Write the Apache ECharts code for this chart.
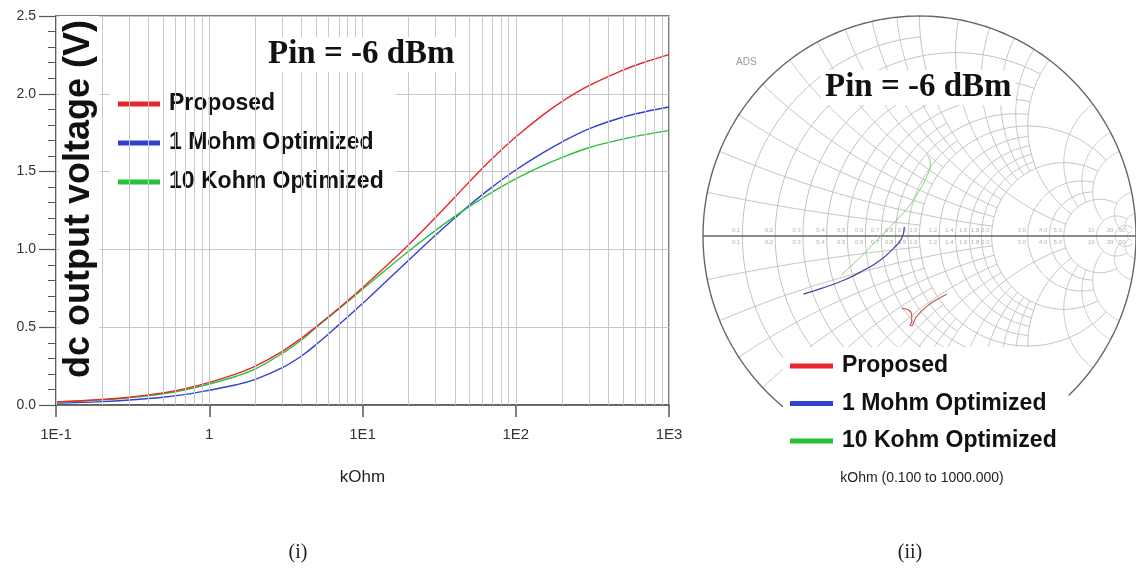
<!DOCTYPE html>
<html>
<head>
<meta charset="utf-8">
<script src="https://cdn.jsdelivr.net/npm/echarts@6/dist/echarts.min.js"></script>
<style>
  html, body { margin: 0; padding: 0; background: #fff; }
  #chart { width: 1136px; height: 570px; }
</style>
</head>
<body>
<div id="chart"></div>
<script>
// left panel: dc output voltage vs load (kOhm), log x axis
const loadKohm = [0.1, 0.2, 0.3, 0.5, 0.7, 1, 1.5, 2, 3, 4, 5, 7, 10, 15, 20, 30, 40, 50, 70, 100, 150, 200, 300, 500, 700, 1000];
const proposedV = [0.020, 0.035, 0.050, 0.078, 0.105, 0.145, 0.200, 0.250, 0.345, 0.430, 0.505, 0.622, 0.754, 0.912, 1.030, 1.206, 1.335, 1.437, 1.583, 1.722, 1.863, 1.950, 2.052, 2.152, 2.205, 2.252];
const mohmV     = [0.012, 0.022, 0.032, 0.050, 0.068, 0.095, 0.130, 0.165, 0.240, 0.315, 0.390, 0.515, 0.652, 0.815, 0.930, 1.092, 1.202, 1.285, 1.400, 1.510, 1.620, 1.690, 1.775, 1.850, 1.885, 1.915];
const kohmV     = [0.018, 0.033, 0.047, 0.072, 0.098, 0.135, 0.185, 0.232, 0.332, 0.418, 0.500, 0.617, 0.744, 0.888, 0.988, 1.122, 1.212, 1.277, 1.367, 1.454, 1.538, 1.590, 1.653, 1.709, 1.738, 1.763];
const seriesNames = ['Proposed', '1 Mohm Optimized', '10 Kohm Optimized'];

// right panel: traces on the Smith chart (reflection coefficient, re / im)
const proposedGamma = [[-0.082, -0.329], [-0.051, -0.336], [-0.036, -0.359], [-0.036, -0.390], [-0.044, -0.405], [-0.036, -0.408], [-0.026, -0.390], [-0.014, -0.367], [0.032, -0.321], [0.077, -0.291], [0.126, -0.265]];
const mohmGamma = [[-0.536, -0.264], [-0.453, -0.238], [-0.347, -0.200], [-0.256, -0.155], [-0.180, -0.109], [-0.120, -0.056], [-0.082, -0.010], [-0.070, 0.042]];
const kohmGamma = [[-0.362, -0.177], [-0.271, -0.094], [-0.180, -0.003], [-0.105, 0.073], [-0.044, 0.141], [0.001, 0.209], [0.040, 0.285], [0.050, 0.330], [0.035, 0.368]];

// smith chart grid: [value, limit]
const resistCircles = [[0.1, 1], [0.2, 2], [0.3, 1], [0.4, 2], [0.5, 1], [0.6, 2], [0.7, 1], [0.8, 2], [0.9, 1], [1, 5],
  [1.2, 2], [1.4, 2], [1.6, 2], [1.8, 2], [2, 5], [3, 5], [4, 5], [5, 10], [10, 20], [20, 50], [50, 50]];
const reactArcs = [[0.1, 1], [0.2, 2], [0.3, 1], [0.4, 2], [0.5, 1], [0.6, 2], [0.7, 1], [0.8, 2], [0.9, 1], [1, 5],
  [1.2, 2], [1.4, 2], [1.6, 2], [1.8, 2], [2, 5], [3, 5], [4, 5], [5, 10], [10, 20], [20, 50]];

const decades = [0.1, 1, 10, 100];
const vGrid = [];
decades.forEach(d => { for (let k = 1; k <= 9; k++) vGrid.push(+(d * k).toPrecision(3)); });
vGrid.push(1000);

function zToGamma(r, x) {
  const d = (r + 1) * (r + 1) + x * x;
  return [(r * r + x * x - 1) / d, 2 * x / d];
}

const gridStroke = '#c2c2c2';

function renderSmith(params, api) {
  const kind = api.value(0), a = api.value(1), b = api.value(2);
  let pts = [];
  const n = 120;
  if (kind === 0) {
    const cx = a / (1 + a), R = 1 / (1 + a);
    const p = zToGamma(a, b);
    const phi = Math.atan2(p[1], p[0] - cx);
    for (let i = 0; i <= n; i++) {
      const t = phi + (2 * Math.PI - 2 * phi) * i / n;
      pts.push([cx + R * Math.cos(t), R * Math.sin(t)]);
    }
    const lp = api.coord([(a - 1) / (a + 1), 0]);
    const lbl = String(a < 10 ? a.toFixed(1) : a);
    return {
      type: 'group',
      children: [
        { type: 'polyline', shape: { points: pts.map(q => api.coord(q)) }, style: { stroke: gridStroke, lineWidth: 1, fill: null } },
        { type: 'text', x: lp[0] - 2, y: lp[1] - 3, style: { text: lbl, font: '6px "Liberation Sans"', fill: '#b0b0b0', align: 'right', verticalAlign: 'bottom' } },
        { type: 'text', x: lp[0] - 2, y: lp[1] + 3, style: { text: lbl, font: '6px "Liberation Sans"', fill: '#b0b0b0', align: 'right', verticalAlign: 'top' } }
      ]
    };
  } else if (kind === 1) {
    const R = 1 / a;
    const p0 = zToGamma(0, a), p1 = zToGamma(b, a);
    const a0 = Math.atan2(p0[1] - R, p0[0] - 1);
    let da = Math.atan2(p1[1] - R, p1[0] - 1) - a0;
    while (da > Math.PI) da -= 2 * Math.PI;
    while (da < -Math.PI) da += 2 * Math.PI;
    const up = [];
    for (let i = 0; i <= n; i++) {
      const t = a0 + da * i / n;
      up.push([1 + R * Math.cos(t), R + R * Math.sin(t)]);
    }
    const down = up.map(q => [q[0], -q[1]]);
    return {
      type: 'group',
      children: [up, down].map(arr => ({
        type: 'polyline',
        shape: { points: arr.map(q => api.coord(q)) },
        style: { stroke: gridStroke, lineWidth: 1, fill: null }
      }))
    };
  } else if (kind === 2) {
    for (let i = 0; i <= 240; i++) {
      const t = 2 * Math.PI * i / 240;
      pts.push([Math.cos(t), Math.sin(t)]);
    }
  } else {
    pts = [[-1, 0], [1, 0]];
  }
  return {
    type: 'polyline',
    z2: 5,
    shape: { points: pts.map(q => api.coord(q)) },
    style: { stroke: '#666', lineWidth: 1.4, fill: null }
  };
}

const smithGridData = []
  .concat(resistCircles.map(c => [0, c[0], c[1]]))
  .concat(reactArcs.map(c => [1, c[0], c[1]]))
  .concat([[2, 0, 0], [3, 0, 0]]);

const chart = echarts.init(document.getElementById('chart'));

const legendText = { fontFamily: 'Liberation Sans', fontWeight: 'bold', fontSize: 23, lineHeight: 26, color: '#111', padding: [0, 0, 0, 4] };
const titleText = { fontFamily: 'Liberation Serif', fontWeight: 'bold', fontSize: 33, color: '#111' };

const option = {
  animation: false,
  title: [
    { text: 'Pin = -6 dBm', left: 264, top: 37, padding: [1, 4], backgroundColor: '#fff', textStyle: titleText },
    { text: 'Pin = -6 dBm', left: 821, top: 70, padding: [1, 4], backgroundColor: '#fff', textStyle: titleText }
  ],
  legend: [
    {
      data: seriesNames, orient: 'vertical', left: 110, top: 85, padding: [6, 12, 8, 8],
      backgroundColor: '#fff', itemWidth: 42, itemHeight: 5, itemGap: 13, icon: 'rect',
      textStyle: legendText, selectedMode: false
    },
    {
      data: seriesNames, orient: 'vertical', left: 783, top: 347, padding: [6, 12, 10, 7],
      backgroundColor: '#fff', itemWidth: 43, itemHeight: 5, itemGap: 11.5, icon: 'rect',
      textStyle: legendText, selectedMode: false
    }
  ],
  grid: [
    { left: 56, top: 16, width: 613, height: 389, show: true, borderColor: '#555', borderWidth: 1.5 },
    { left: 703, top: 16, width: 440, height: 440 }
  ],
  xAxis: [
    {
      gridIndex: 0, type: 'log', logBase: 10, min: 0.1, max: 1000,
      name: 'kOhm', nameLocation: 'middle', nameGap: 64,
      nameTextStyle: { fontFamily: 'Liberation Sans', fontSize: 17, color: '#222' },
      axisLine: { lineStyle: { color: '#555', width: 1.5 } },
      axisTick: { length: 12, lineStyle: { color: '#555', width: 1.5 } },
      axisLabel: {
        fontFamily: 'Liberation Sans', fontSize: 15, color: '#333', margin: 22,
        formatter: v => {
          const e = Math.round(Math.log10(v));
          return e === 0 ? '1' : '1E' + e;
        }
      },
      splitLine: { show: false }
    },
    { gridIndex: 1, type: 'value', min: -1, max: 1, show: false }
  ],
  yAxis: [
    {
      gridIndex: 0, type: 'value', min: 0, max: 2.5, interval: 0.5,
      axisLine: { show: true, lineStyle: { color: '#555', width: 1.5 } },
      axisTick: { show: true, length: 17, lineStyle: { color: '#555', width: 1.2 } },
      minorTick: { show: true, splitNumber: 5, length: 8, lineStyle: { color: '#555', width: 1 } },
      axisLabel: { fontFamily: 'Liberation Sans', fontSize: 14, color: '#333', margin: 20, formatter: v => v.toFixed(1) },
      splitLine: { show: true, lineStyle: { color: '#c8c8c8', width: 1 } }
    },
    { gridIndex: 1, type: 'value', min: -1, max: 1, show: false }
  ],
  graphic: [
    {
      type: 'text', x: 79, y: 199, rotation: Math.PI / 2, z: 10,
      style: {
        text: 'dc output voltage (V)', font: 'bold 36px "Liberation Sans"', fill: '#111',
        align: 'center', verticalAlign: 'middle', backgroundColor: '#fff', padding: [2, 4]
      }
    },
    { type: 'text', x: 736, y: 57, style: { text: 'ADS', font: '10px "Liberation Sans"', fill: '#999' } },
    {
      type: 'text', x: 922, y: 478,
      style: { text: 'kOhm (0.100 to 1000.000)', font: '14px "Liberation Sans"', fill: '#222', align: 'center', verticalAlign: 'middle' }
    },
    { type: 'text', x: 298, y: 553, style: { text: '(i)', font: '20px "Liberation Serif"', fill: '#222', align: 'center', verticalAlign: 'middle' } },
    { type: 'text', x: 910, y: 553, style: { text: '(ii)', font: '20px "Liberation Serif"', fill: '#222', align: 'center', verticalAlign: 'middle' } }
  ],
  series: [
    {
      type: 'line', xAxisIndex: 0, yAxisIndex: 0, data: [], z: 1, silent: true,
      markLine: {
        silent: true, symbol: ['none', 'none'], label: { show: false },
        lineStyle: { color: '#c8c8c8', type: 'solid', width: 1 },
        data: vGrid.map(v => ({ xAxis: v }))
      }
    },
    {
      name: seriesNames[0], type: 'line', xAxisIndex: 0, yAxisIndex: 0, smooth: 0.4, showSymbol: false,
      color: '#e8262b', lineStyle: { width: 1.4 }, z: 4,
      data: loadKohm.map((x, i) => [x, proposedV[i]])
    },
    {
      name: seriesNames[1], type: 'line', xAxisIndex: 0, yAxisIndex: 0, smooth: 0.4, showSymbol: false,
      color: '#3440d0', lineStyle: { width: 1.4 }, z: 3,
      data: loadKohm.map((x, i) => [x, mohmV[i]])
    },
    {
      name: seriesNames[2], type: 'line', xAxisIndex: 0, yAxisIndex: 0, smooth: 0.4, showSymbol: false,
      color: '#27c23a', lineStyle: { width: 1.4 }, z: 3,
      data: loadKohm.map((x, i) => [x, kohmV[i]])
    },
    {
      type: 'custom', xAxisIndex: 1, yAxisIndex: 1, silent: true, z: 1,
      renderItem: renderSmith, data: smithGridData, encode: { x: 1, y: 2 }
    },
    {
      name: seriesNames[0], type: 'line', xAxisIndex: 1, yAxisIndex: 1, smooth: true, showSymbol: false,
      lineStyle: { width: 1.2, color: '#c25a5a' }, itemStyle: { color: '#e8262b' }, z: 3, data: proposedGamma
    },
    {
      name: seriesNames[1], type: 'line', xAxisIndex: 1, yAxisIndex: 1, smooth: true, showSymbol: false,
      lineStyle: { width: 1.2, color: '#44449e' }, itemStyle: { color: '#3440d0' }, z: 3, data: mohmGamma
    },
    {
      name: seriesNames[2], type: 'line', xAxisIndex: 1, yAxisIndex: 1, smooth: true, showSymbol: false,
      lineStyle: { width: 1, color: '#6fd86f' }, itemStyle: { color: '#27c23a' }, z: 3, data: kohmGamma
    }
  ]
};

chart.setOption(option);
</script>
</body>
</html>
